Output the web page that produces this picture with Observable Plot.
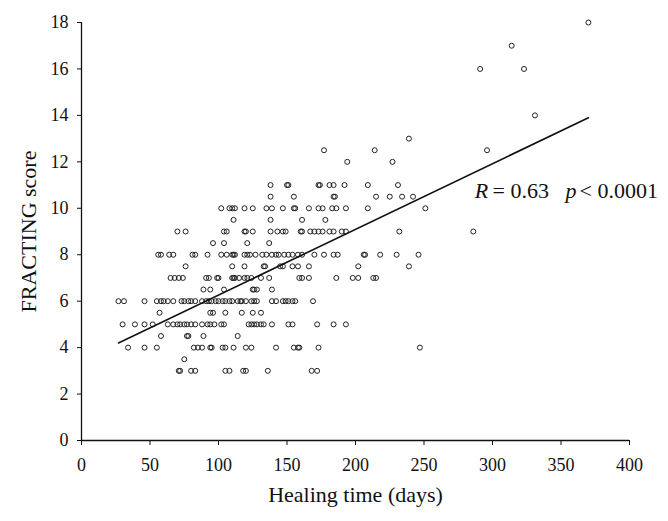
<!DOCTYPE html>
<html><head><meta charset="utf-8">
<script src="https://cdn.jsdelivr.net/npm/d3@7"></script>
<script src="https://cdn.jsdelivr.net/npm/@observablehq/plot@0.6"></script>
<style>body{margin:0;background:#fff}</style>
</head><body><div id="chart"></div>
<script>
// FRACTING score levels and healing times (days)
const scoreLevels = [3, 3.5, 4, 4.5, 5, 5.5, 6, 6.5, 7, 7.5, 8, 8.5, 9, 9.5, 10, 10.5, 11, 12, 12.5, 13, 14, 16, 17, 18];
const daysByLevel = [
  [71,72,80,83,105,108,118,120,136,168,172],
  [75],
  [34,46,55,82,85,88,94,95,103,105,111,120,124,142,155,158,159,173,247],
  [58,77,78,89,114],
  [30,39,46,52,63,67,70,72,75,77,80,83,88,92,94,97,102,104,122,124,126,128,131,133,139,151,154,172,184,193],
  [57,94,96,105,117,125,131],
  [27,31,46,55,58,60,63,67,73,75,78,80,83,88,91,93,95,98,100,103,105,108,110,114,116,117,120,124,126,128,139,142,147,149,151,154,156,169],
  [89,94,104,125,126,128,139],
  [65,68,71,74,91,93,99,100,110,111,112,115,119,121,124,131,137,159,161,166,186,198,202,213,215],
  [76,110,119,133,134,145,147,154,158,166,202,239],
  [56,58,64,67,81,83,92,102,106,110,111,112,119,121,123,127,132,135,139,142,144,148,151,154,158,161,170,177,184,187,206,207,218,230,246],
  [96,104,121,137],
  [70,76,104,106,119,120,125,138,143,147,149,160,161,167,170,173,176,181,184,190,193,232,286],
  [111,138,161,178],
  [102,108,110,112,119,125,135,139,147,155,156,166,173,176,183,186,193,209,251],
  [138,155,184,185,215,225,234,242],
  [138,150,151,173,174,181,184,192,209,231],
  [194,227],
  [177,214,296],
  [239],
  [331],
  [291,323],
  [314],
  [370]
];
// regression line end points
const fitDays = [27, 370];
const fitScores = [4.2, 13.9];
const xTicks = [0, 50, 100, 150, 200, 250, 300, 350, 400];
const yTicks = [0, 2, 4, 6, 8, 10, 12, 14, 16, 18];
const annotationParts = ["R", "= 0.63", "p", "< 0.0001"];
const annotationDays = [287, 300, 353.3, 363.5];
const annotationScore = 10.45;

const data = scoreLevels.flatMap((s, i) => daysByLevel[i].map(d => ({days: d, score: s})));
const fit = fitDays.map((d, i) => ({days: d, score: fitScores[i]}));
const notes = annotationParts.map((t, i) => ({t, days: annotationDays[i], score: annotationScore, italic: i % 2 === 0}));

const chart = Plot.plot({
  width: 668, height: 521,
  marginLeft: 81, marginRight: 39, marginTop: 22, marginBottom: 81,
  style: {fontFamily: "'Liberation Serif', 'Times New Roman', serif", fontSize: "18px", color: "#111", background: "#fff"},
  x: {domain: [0, 400]},
  y: {domain: [0, 18]},
  marks: [
    Plot.axisX({ticks: xTicks, tickSize: 5, tickPadding: 13, fontSize: 18, label: null}),
    Plot.axisY({ticks: yTicks, tickSize: 4, tickPadding: 9, fontSize: 18, label: null}),
    Plot.ruleY([0], {stroke: "#111", strokeWidth: 1.3}),
    Plot.ruleX([0], {stroke: "#111", strokeWidth: 1.3}),
    Plot.dot(data, {x: "days", y: "score", r: 2.5, stroke: "#222", strokeWidth: 1, fill: "none"}),
    Plot.line(fit, {x: "days", y: "score", stroke: "#111", strokeWidth: 1.6}),
    Plot.text(notes.filter(d => d.italic), {x: "days", y: "score", text: "t", textAnchor: "start", lineAnchor: "bottom", fontSize: 22, fontStyle: "italic", fill: "#111"}),
    Plot.text(notes.filter(d => !d.italic), {x: "days", y: "score", text: "t", textAnchor: "start", lineAnchor: "bottom", fontSize: 22, fill: "#111"}),
    Plot.text(["Healing time (days)"], {frameAnchor: "bottom", textAnchor: "middle", lineAnchor: "middle", dy: 54, fontSize: 22, fill: "#111"}),
    Plot.text(["FRACTING score"], {frameAnchor: "left", textAnchor: "middle", lineAnchor: "middle", rotate: -90, dx: -53, fontSize: 22, fill: "#111"})
  ]
});
document.getElementById("chart").appendChild(chart);
</script>
</body></html>
